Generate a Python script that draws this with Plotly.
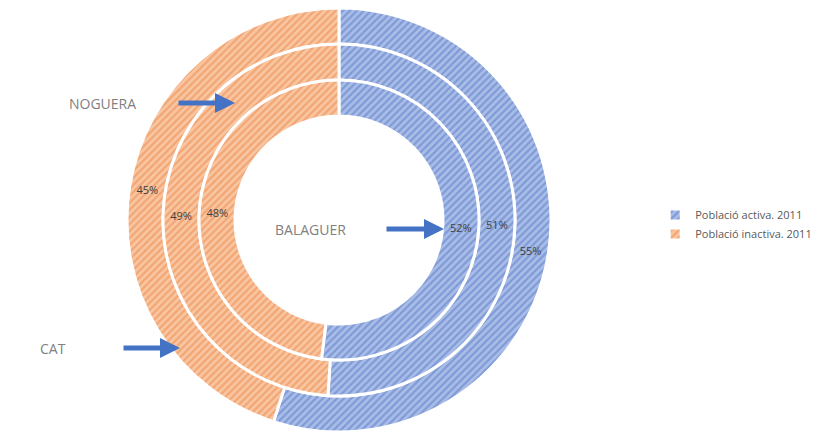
import plotly.graph_objects as go

# Activity shares, 2011 (percent), one ring per territory
series = ["Població activa. 2011", "Població inactiva. 2011"]
territories = ["CAT", "NOGUERA", "BALAGUER"]   # outer -> inner
activa = [55, 51, 52]
inactiva = [45, 49, 48]

base_colors = ["#A9BDE6", "#F8C6A2"]
stripe_colors = ["#5578C8", "#EE8543"]

W, H = 819, 440
cx, cy = 339, 220
ring_outer = [212, 176, 140]
ring_inner = [176, 140, 104]

fig = go.Figure()
for i, name in enumerate(territories):
    r = ring_outer[i]
    fig.add_trace(go.Pie(
        labels=series,
        values=[activa[i], inactiva[i]],
        name=name,
        sort=False,
        direction="clockwise",
        rotation=0,
        hole=ring_inner[i] / r,
        domain=dict(x=[(cx - r) / W, (cx + r) / W],
                    y=[(H - cy - r) / H, (H - cy + r) / H]),
        marker=dict(
            colors=base_colors,
            line=dict(color="white", width=3),
            pattern=dict(shape="/", fillmode="overlay",
                         fgcolor=stripe_colors, size=5, solidity=0.45),
        ),
        texttemplate="%{percent:.0%}",
        textposition="inside",
        insidetextorientation="horizontal",
        textfont=dict(size=11, color="#404040"),
        hoverinfo="label+percent+name",
        showlegend=(i == 0),
    ))

label_font = dict(size=14, color="#808080", family="Open Sans")
arrow = dict(showarrow=True, arrowhead=2, arrowsize=0.8, arrowwidth=5,
             arrowcolor="#4472C4", axref="pixel", ayref="pixel")

annotations = [
    dict(text="NOGUERA", x=67 / W, y=1 - 103 / H, xanchor="left", yanchor="middle"),
    dict(text="BALAGUER", x=273 / W, y=1 - 229 / H, xanchor="left", yanchor="middle"),
    dict(text="CAT", x=38 / W, y=1 - 348 / H, xanchor="left", yanchor="middle"),
]
for a in annotations:
    a.update(xref="paper", yref="paper", showarrow=False, font=label_font)

arrows = [((177, 103), (235, 103)), ((385, 229), (444, 229)), ((122, 348), (180, 348))]
for (x0, y0), (x1, y1) in arrows:
    annotations.append(dict(xref="paper", yref="paper", x=x1 / W, y=1 - y1 / H,
                            ax=x0 - x1, ay=y0 - y1, text="", **arrow))

fig.update_layout(
    width=W, height=H,
    margin=dict(l=0, r=0, t=0, b=0),
    paper_bgcolor="white",
    font=dict(family="Open Sans", color="#595959"),
    annotations=annotations,
    legend=dict(x=0.80, y=0.49, xanchor="left", yanchor="middle",
                font=dict(size=11, color="#595959"),
                itemwidth=30),
)

fig.write_html("out.html")
